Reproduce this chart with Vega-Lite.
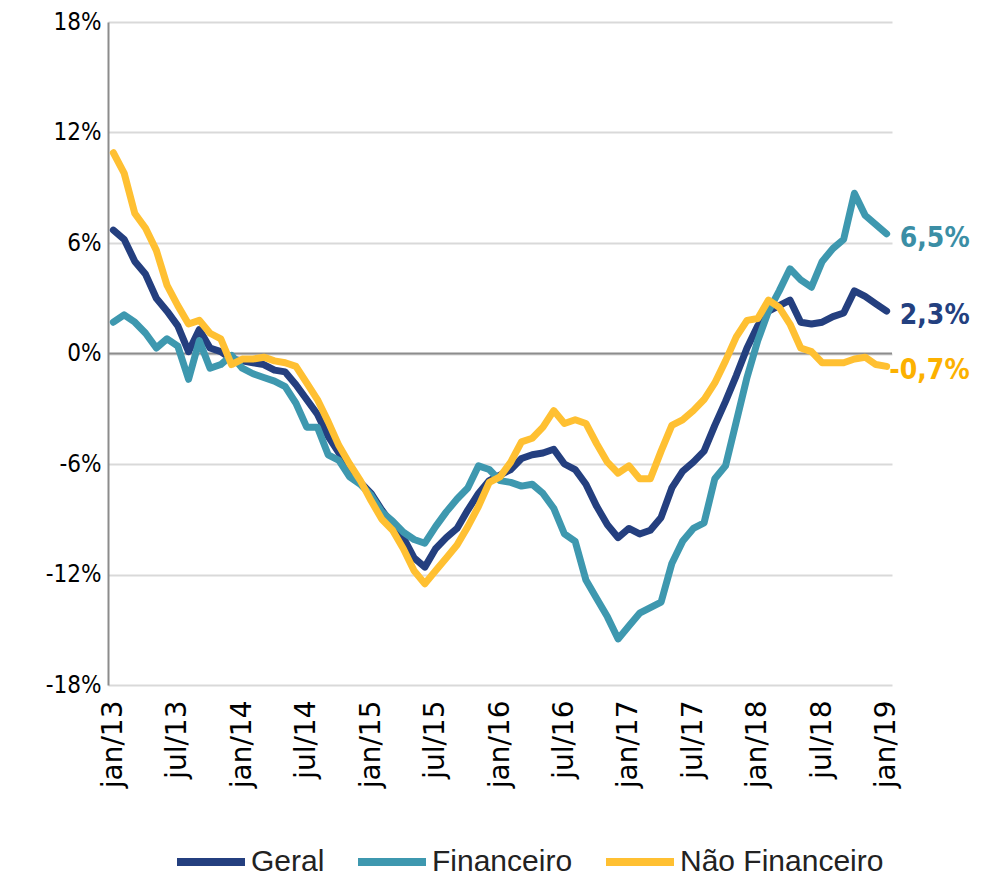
{
  "$schema": "https://vega.github.io/schema/vega-lite/v6.json",
  "width": 784,
  "height": 663,
  "autosize": {"type": "none"},
  "padding": {"left": 108, "top": 22, "right": 100, "bottom": 192},
  "background": "white",
  "config": {
    "view": {"stroke": null},
    "font": "Liberation Sans",
    "locale": {"number": {"decimal": ",", "thousands": ".", "grouping": [3], "currency": ["", " €"], "minus": "-"}}
  },
  "data": {"values": [
    {"mes": "jan/13", "Geral": 0.067, "Financeiro": 0.017, "Não Financeiro": 0.109},
    {"mes": "fev/13", "Geral": 0.062, "Financeiro": 0.021, "Não Financeiro": 0.098},
    {"mes": "mar/13", "Geral": 0.050, "Financeiro": 0.017, "Não Financeiro": 0.076},
    {"mes": "abr/13", "Geral": 0.043, "Financeiro": 0.011, "Não Financeiro": 0.068},
    {"mes": "mai/13", "Geral": 0.030, "Financeiro": 0.003, "Não Financeiro": 0.056},
    {"mes": "jun/13", "Geral": 0.023, "Financeiro": 0.008, "Não Financeiro": 0.037},
    {"mes": "jul/13", "Geral": 0.015, "Financeiro": 0.004, "Não Financeiro": 0.026},
    {"mes": "ago/13", "Geral": 0.001, "Financeiro": -0.014, "Não Financeiro": 0.016},
    {"mes": "set/13", "Geral": 0.013, "Financeiro": 0.007, "Não Financeiro": 0.018},
    {"mes": "out/13", "Geral": 0.003, "Financeiro": -0.008, "Não Financeiro": 0.011},
    {"mes": "nov/13", "Geral": 0.001, "Financeiro": -0.006, "Não Financeiro": 0.008},
    {"mes": "dez/13", "Geral": -0.003, "Financeiro": -0.001, "Não Financeiro": -0.006},
    {"mes": "jan/14", "Geral": -0.004, "Financeiro": -0.008, "Não Financeiro": -0.003},
    {"mes": "fev/14", "Geral": -0.005, "Financeiro": -0.011, "Não Financeiro": -0.003},
    {"mes": "mar/14", "Geral": -0.006, "Financeiro": -0.013, "Não Financeiro": -0.002},
    {"mes": "abr/14", "Geral": -0.009, "Financeiro": -0.015, "Não Financeiro": -0.004},
    {"mes": "mai/14", "Geral": -0.010, "Financeiro": -0.018, "Não Financeiro": -0.005},
    {"mes": "jun/14", "Geral": -0.017, "Financeiro": -0.027, "Não Financeiro": -0.007},
    {"mes": "jul/14", "Geral": -0.025, "Financeiro": -0.040, "Não Financeiro": -0.016},
    {"mes": "ago/14", "Geral": -0.033, "Financeiro": -0.040, "Não Financeiro": -0.025},
    {"mes": "set/14", "Geral": -0.045, "Financeiro": -0.055, "Não Financeiro": -0.037},
    {"mes": "out/14", "Geral": -0.054, "Financeiro": -0.058, "Não Financeiro": -0.050},
    {"mes": "nov/14", "Geral": -0.063, "Financeiro": -0.067, "Não Financeiro": -0.060},
    {"mes": "dez/14", "Geral": -0.070, "Financeiro": -0.071, "Não Financeiro": -0.069},
    {"mes": "jan/15", "Geral": -0.076, "Financeiro": -0.077, "Não Financeiro": -0.080},
    {"mes": "fev/15", "Geral": -0.085, "Financeiro": -0.086, "Não Financeiro": -0.090},
    {"mes": "mar/15", "Geral": -0.093, "Financeiro": -0.091, "Não Financeiro": -0.096},
    {"mes": "abr/15", "Geral": -0.100, "Financeiro": -0.097, "Não Financeiro": -0.106},
    {"mes": "mai/15", "Geral": -0.111, "Financeiro": -0.101, "Não Financeiro": -0.118},
    {"mes": "jun/15", "Geral": -0.116, "Financeiro": -0.103, "Não Financeiro": -0.125},
    {"mes": "jul/15", "Geral": -0.106, "Financeiro": -0.094, "Não Financeiro": -0.118},
    {"mes": "ago/15", "Geral": -0.100, "Financeiro": -0.086, "Não Financeiro": -0.111},
    {"mes": "set/15", "Geral": -0.095, "Financeiro": -0.079, "Não Financeiro": -0.104},
    {"mes": "out/15", "Geral": -0.085, "Financeiro": -0.073, "Não Financeiro": -0.094},
    {"mes": "nov/15", "Geral": -0.076, "Financeiro": -0.061, "Não Financeiro": -0.083},
    {"mes": "dez/15", "Geral": -0.069, "Financeiro": -0.063, "Não Financeiro": -0.070},
    {"mes": "jan/16", "Geral": -0.066, "Financeiro": -0.069, "Não Financeiro": -0.067},
    {"mes": "fev/16", "Geral": -0.063, "Financeiro": -0.070, "Não Financeiro": -0.059},
    {"mes": "mar/16", "Geral": -0.057, "Financeiro": -0.072, "Não Financeiro": -0.048},
    {"mes": "abr/16", "Geral": -0.055, "Financeiro": -0.071, "Não Financeiro": -0.046},
    {"mes": "mai/16", "Geral": -0.054, "Financeiro": -0.076, "Não Financeiro": -0.040},
    {"mes": "jun/16", "Geral": -0.052, "Financeiro": -0.084, "Não Financeiro": -0.031},
    {"mes": "jul/16", "Geral": -0.060, "Financeiro": -0.098, "Não Financeiro": -0.038},
    {"mes": "ago/16", "Geral": -0.063, "Financeiro": -0.102, "Não Financeiro": -0.036},
    {"mes": "set/16", "Geral": -0.071, "Financeiro": -0.123, "Não Financeiro": -0.038},
    {"mes": "out/16", "Geral": -0.083, "Financeiro": -0.133, "Não Financeiro": -0.049},
    {"mes": "nov/16", "Geral": -0.093, "Financeiro": -0.143, "Não Financeiro": -0.059},
    {"mes": "dez/16", "Geral": -0.100, "Financeiro": -0.155, "Não Financeiro": -0.065},
    {"mes": "jan/17", "Geral": -0.095, "Financeiro": -0.148, "Não Financeiro": -0.061},
    {"mes": "fev/17", "Geral": -0.098, "Financeiro": -0.141, "Não Financeiro": -0.068},
    {"mes": "mar/17", "Geral": -0.096, "Financeiro": -0.138, "Não Financeiro": -0.068},
    {"mes": "abr/17", "Geral": -0.089, "Financeiro": -0.135, "Não Financeiro": -0.053},
    {"mes": "mai/17", "Geral": -0.073, "Financeiro": -0.114, "Não Financeiro": -0.039},
    {"mes": "jun/17", "Geral": -0.064, "Financeiro": -0.102, "Não Financeiro": -0.036},
    {"mes": "jul/17", "Geral": -0.059, "Financeiro": -0.095, "Não Financeiro": -0.031},
    {"mes": "ago/17", "Geral": -0.053, "Financeiro": -0.092, "Não Financeiro": -0.025},
    {"mes": "set/17", "Geral": -0.039, "Financeiro": -0.068, "Não Financeiro": -0.016},
    {"mes": "out/17", "Geral": -0.026, "Financeiro": -0.061, "Não Financeiro": -0.004},
    {"mes": "nov/17", "Geral": -0.012, "Financeiro": -0.037, "Não Financeiro": 0.009},
    {"mes": "dez/17", "Geral": 0.003, "Financeiro": -0.013, "Não Financeiro": 0.018},
    {"mes": "jan/18", "Geral": 0.015, "Financeiro": 0.007, "Não Financeiro": 0.019},
    {"mes": "fev/18", "Geral": 0.023, "Financeiro": 0.023, "Não Financeiro": 0.029},
    {"mes": "mar/18", "Geral": 0.026, "Financeiro": 0.034, "Não Financeiro": 0.025},
    {"mes": "abr/18", "Geral": 0.029, "Financeiro": 0.046, "Não Financeiro": 0.016},
    {"mes": "mai/18", "Geral": 0.017, "Financeiro": 0.040, "Não Financeiro": 0.003},
    {"mes": "jun/18", "Geral": 0.016, "Financeiro": 0.036, "Não Financeiro": 0.001},
    {"mes": "jul/18", "Geral": 0.017, "Financeiro": 0.050, "Não Financeiro": -0.005},
    {"mes": "ago/18", "Geral": 0.020, "Financeiro": 0.057, "Não Financeiro": -0.005},
    {"mes": "set/18", "Geral": 0.022, "Financeiro": 0.062, "Não Financeiro": -0.005},
    {"mes": "out/18", "Geral": 0.034, "Financeiro": 0.087, "Não Financeiro": -0.003},
    {"mes": "nov/18", "Geral": 0.031, "Financeiro": 0.075, "Não Financeiro": -0.002},
    {"mes": "dez/18", "Geral": 0.027, "Financeiro": 0.070, "Não Financeiro": -0.006},
    {"mes": "jan/19", "Geral": 0.023, "Financeiro": 0.065, "Não Financeiro": -0.007}
  ]},
  "layer": [
    {
      "data": {"values": [{}]},
      "mark": {"type": "rule", "color": "#8c8c8c", "strokeWidth": 2},
      "encoding": {"y": {"datum": 0, "type": "quantitative"}}
    },
    {
      "transform": [{"fold": ["Geral", "Financeiro", "Não Financeiro"], "as": ["serie", "valor"]}],
      "mark": {"type": "line", "strokeWidth": 7, "strokeCap": "round", "strokeJoin": "round"},
      "encoding": {
        "x": {
          "field": "mes", "type": "ordinal", "sort": null,
          "scale": {"type": "point", "padding": 0.5},
          "axis": {
            "values": ["jan/13", "jul/13", "jan/14", "jul/14", "jan/15", "jul/15", "jan/16", "jul/16", "jan/17", "jul/17", "jan/18", "jul/18", "jan/19"],
            "labelAngle": -90, "labelAlign": "right", "labelBaseline": "middle",
            "labelPadding": 15, "ticks": false, "tickSize": 0, "domain": false, "grid": false, "title": null,
            "labelFont": "DejaVu Sans", "labelFontSize": 28, "labelColor": "#000000"
          }
        },
        "y": {
          "field": "valor", "type": "quantitative",
          "scale": {"domain": [-0.18, 0.18], "nice": false, "zero": false},
          "axis": {
            "values": [-0.18, -0.12, -0.06, 0, 0.06, 0.12, 0.18],
            "format": ".0%", "grid": true, "gridColor": "#d9d9d9", "gridWidth": 2,
            "domain": true, "domainColor": "#8c8c8c", "domainWidth": 2,
            "ticks": false, "tickSize": 0, "labelPadding": 7, "title": null,
            "labelFont": "DejaVu Sans Condensed", "labelFontSize": 24, "labelColor": "#000000"
          }
        },
        "color": {
          "field": "serie", "type": "nominal",
          "scale": {"domain": ["Geral", "Financeiro", "Não Financeiro"], "range": ["#243f7f", "#3e98af", "#ffc032"]},
          "legend": {
            "orient": "none", "legendX": 65, "legendY": 802, "direction": "horizontal", "title": null,
            "symbolType": "stroke", "symbolSize": 4624, "symbolStrokeWidth": 8,
            "labelFont": "Liberation Sans", "labelFontSize": 30, "labelColor": "#222222",
            "labelOffset": 2, "columnPadding": 17, "labelLimit": 400
          }
        }
      }
    },
    {
      "transform": [
        {"fold": ["Geral", "Financeiro", "Não Financeiro"], "as": ["serie", "valor"]},
        {"filter": "datum.mes == 'jan/19'"}
      ],
      "mark": {"type": "text", "align": "right", "baseline": "middle", "dx": 83, "dy": 5, "fontSize": 28, "fontWeight": "bold", "font": "DejaVu Sans Condensed"},
      "encoding": {
        "x": {"field": "mes", "type": "ordinal", "sort": null},
        "y": {"field": "valor", "type": "quantitative"},
        "text": {"field": "valor", "type": "quantitative", "format": ".1%"},
        "color": {
          "field": "serie", "type": "nominal",
          "scale": {"domain": ["Geral", "Financeiro", "Não Financeiro"], "range": ["#23407f", "#3b8ea5", "#fcb100"]},
          "legend": null
        }
      }
    }
  ],
  "resolve": {"scale": {"color": "independent"}}
}
